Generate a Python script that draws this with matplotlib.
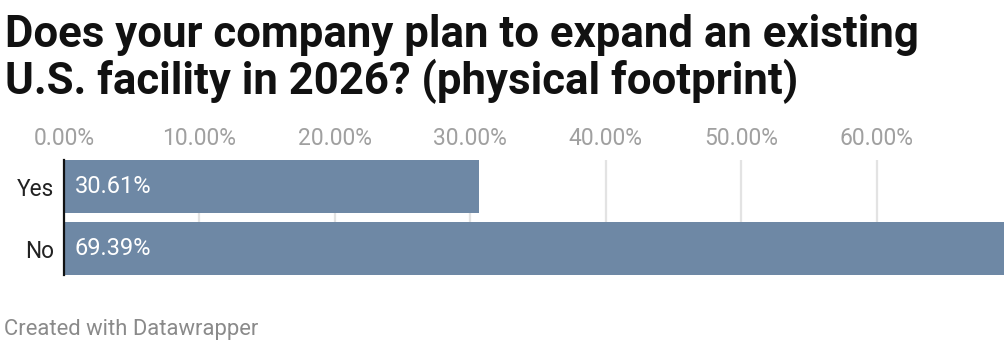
import matplotlib
matplotlib.use("Agg")
import matplotlib.pyplot as plt

categories = ["Yes", "No"]
values = [30.61, 69.39]
ticks = [0, 10, 20, 30, 40, 50, 60]
tick_labels = ["0.00%", "10.00%", "20.00%", "30.00%", "40.00%", "50.00%", "60.00%"]
value_labels = ["30.61%", "69.39%"]

title = "Does your company plan to expand an existing\nU.S. facility in 2026? (physical footprint)"
footer = "Created with Datawrapper"

plt.rcParams["font.family"] = ["Roboto", "DejaVu Sans"]

W, H = 1008, 346
fig = plt.figure(figsize=(W / 100, H / 100), dpi=100)

# plot area in pixel coordinates
x0, x1 = 64, 1004
y_top, y_bot = 160, 275
ax = fig.add_axes([x0 / W, 1 - y_bot / H, (x1 - x0) / W, (y_bot - y_top) / H])

bar_color = "#6e88a5"
pos = list(range(len(categories)))
# bars 53px tall with a 9px gap between them
ax.barh(pos, values, height=53 / 62, color=bar_color, zorder=2)
ax.set_ylim(1 + 53 / 124, -53 / 124)
ax.set_xlim(0, max(values))

for x in ticks[1:]:
    ax.axvline(x, color="#e3e3e3", lw=1.6, zorder=1)

for p, lab in zip(pos, value_labels):
    ax.text(0.8, p, lab, color="white", fontsize=17, va="center", ha="left", zorder=3)

ax.set_yticks(pos)
ax.set_yticklabels(categories, fontsize=16.3, color="#222222")
ax.set_xticks(ticks)
ax.set_xticklabels(tick_labels, fontsize=16.5, color="#a0a0a0")
ax.xaxis.tick_top()
ax.tick_params(axis="x", length=0, pad=7)
ax.tick_params(axis="y", length=0, pad=7)

for s in ["top", "right", "bottom"]:
    ax.spines[s].set_visible(False)
ax.spines["left"].set_color("#111111")
ax.spines["left"].set_linewidth(1.6)
ax.spines["left"].set_zorder(4)

line1, line2 = title.split("\n")
fig.text(5 / W, 1 - 47 / H, line1, fontsize=31.5, fontweight="bold",
         color="#111111", va="baseline", ha="left")
fig.text(5 / W, 1 - 94 / H, line2, fontsize=31.5, fontweight="bold",
         color="#111111", va="baseline", ha="left")
fig.text(4 / W, 1 - 329 / H, footer, fontsize=15.8, color="#8a8a8a", va="center", ha="left")

fig.savefig("out.png", dpi=100)
